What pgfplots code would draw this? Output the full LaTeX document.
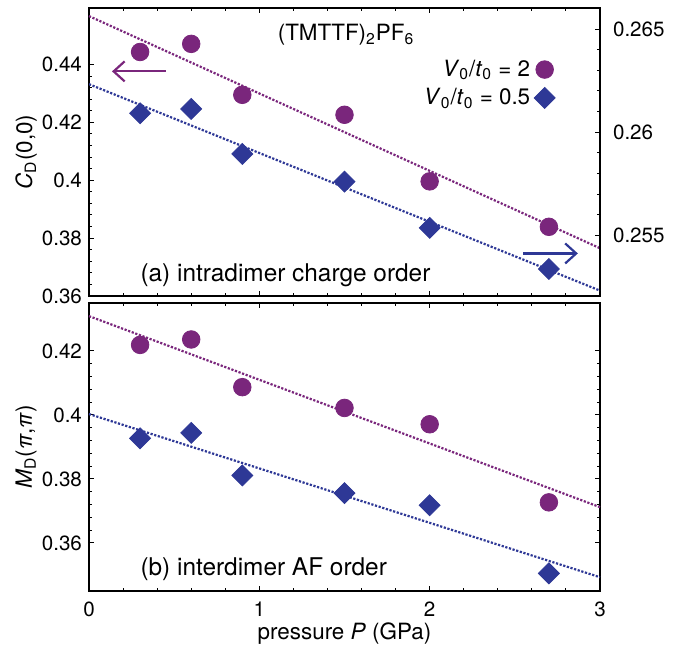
\documentclass[border=0pt]{standalone}
\usepackage{fontspec}
\setmainfont{TeX Gyre Heros}
\usepackage{pgfplots}
\pgfplotsset{compat=1.18}
\usetikzlibrary{arrows.meta}

\definecolor{cpurple}{RGB}{122,38,124}
\definecolor{cblue}{RGB}{46,56,150}

\newcommand\lblfont{\fontsize{11.2}{13}\selectfont}

\pgfplotsset{
  panel/.style={
    scale only axis, width=255.5pt, height=144pt,
    xmin=0, xmax=3, xtick={0,1,2,3}, minor x tick num=4,
    tick align=inside, major tick length=2.6pt, minor tick length=1.5pt,
    every tick/.style={black, line width=0.5pt},
    axis line style={line width=1.1pt},
    /pgf/number format/assume math mode=true,
    scaled y ticks=false,
    yticklabel style={/pgf/number format/fixed, /pgf/number format/precision=3},
    xticklabel style={yshift=-2pt},
    tick label style={font=\fontsize{10.3}{12}\selectfont},
    label style={font=\lblfont},
    minor y tick num=4,
  },
  fitline/.style={line width=1.1pt, dash pattern=on 1.1pt off 0.8pt, forget plot},
  circ/.style={only marks, mark=*, mark size=4.4pt, color=cpurple},
  diam/.style={only marks, mark=square*, mark size=3.7pt, mark options={rotate=45}, color=cblue},
}

\begin{document}
\begin{tikzpicture}
% panel (a), left scale: V0/t0 = 2
\begin{axis}[panel, at={(0,0)}, anchor=south west,
  ymin=0.36, ymax=0.4595, ytick={0.36,0.38,0.4,0.42,0.44}, ytick pos=left,
  xticklabels={},
  ylabel={\textit{C}\textsubscript{D}(0,0)},
  ylabel style={at={(axis description cs:-0.123,0.5)}, anchor=center},
  legend style={draw=none, fill=none, at={(rel axis cs:0.913,0.835)}, anchor=north east,
    font=\lblfont, row sep=0.5pt, inner sep=0pt},
  legend cell align=right, legend plot pos=right,
  clip=false]
  \addplot[fitline, cpurple] coordinates {(0,0.4567) (3,0.3765)};
  \addplot[circ] coordinates {(0.3,0.4443) (0.6,0.4471) (0.9,0.4295) (1.5,0.4226) (2.0,0.3996) (2.7,0.3839)};
  \addlegendentry{\textit{V}\textsubscript{0}/\textit{t}\textsubscript{0} = 2}
  \addlegendimage{diam}
  \addlegendentry{\textit{V}\textsubscript{0}/\textit{t}\textsubscript{0} = 0.5}
  \draw[cpurple, line width=1.1pt, -{Straight Barb[length=5.5pt,width=10pt]}]
    (axis cs:0.45,0.4376) -- (axis cs:0.135,0.4376);
  \draw[cblue, line width=1.1pt, -{Straight Barb[length=5.5pt,width=10pt]}]
    (axis cs:2.55,0.3747) -- (axis cs:2.87,0.3747);
  \node[font=\lblfont] at (rel axis cs:0.503,0.906)
    {(TMTTF)\textsubscript{2}PF\textsubscript{6}};
  \node[anchor=west, inner sep=0pt, font=\fontsize{12.2}{14}\selectfont] at (rel axis cs:0.1,0.073)
    {(a) intradimer charge order};
\end{axis}
% panel (a), right scale: V0/t0 = 0.5
\begin{axis}[panel, at={(0,0)}, anchor=south west,
  ymin=0.25207, ymax=0.26602, ytick={0.255,0.26,0.265},
  axis y line*=right, axis x line=none,
  yticklabel style={xshift=3pt}]
  \addplot[fitline, cblue] coordinates {(0,0.26233) (3,0.25233)};
  \addplot[diam] coordinates {(0.3,0.26092) (0.6,0.26113) (0.9,0.25895) (1.5,0.25761) (2.0,0.25537) (2.7,0.25338)};
\end{axis}
% panel (b)
\begin{axis}[panel, at={(0,-3.5pt)}, anchor=north west,
  ymin=0.345, ymax=0.435, ytick={0.36,0.38,0.4,0.42},
  xlabel={pressure \textit{P} (GPa)},
  xlabel style={yshift=4pt},
  ylabel={\textit{M}\textsubscript{D}(\textit{π},\textit{π})},
  ylabel style={at={(axis description cs:-0.123,0.5)}, anchor=center},
  clip=false]
  \addplot[fitline, cpurple] coordinates {(0,0.4309) (3,0.3712)};
  \addplot[fitline, cblue] coordinates {(0,0.4003) (3,0.3493)};
  \addplot[circ] coordinates {(0.3,0.4219) (0.6,0.4236) (0.9,0.4087) (1.5,0.4022) (2.0,0.3971) (2.7,0.3727)};
  \addplot[diam] coordinates {(0.3,0.3927) (0.6,0.3944) (0.9,0.3811) (1.5,0.3756) (2.0,0.3718) (2.7,0.3505)};
  \node[anchor=west, inner sep=0pt, font=\fontsize{12.2}{14}\selectfont] at (rel axis cs:0.1,0.076)
    {(b) interdimer AF order};
\end{axis}
\pgfresetboundingbox
\path[use as bounding box] (-44.5pt,148pt) rectangle (298pt,-175pt);
\end{tikzpicture}
\end{document}
